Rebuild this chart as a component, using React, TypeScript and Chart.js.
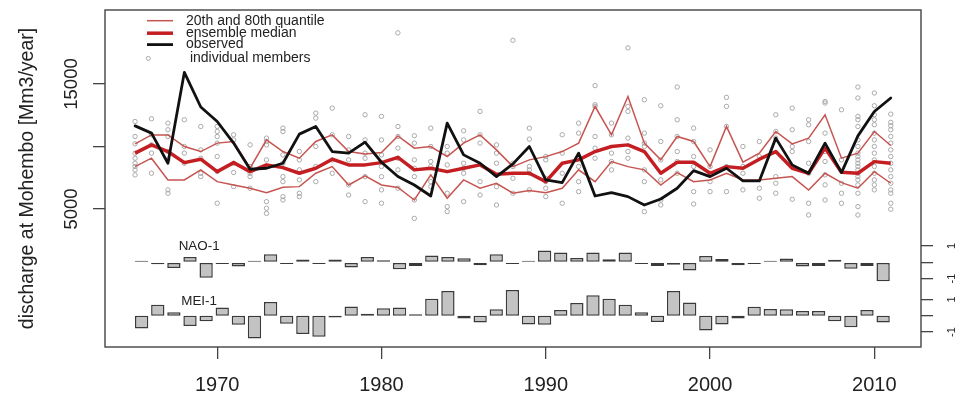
import React, { useEffect, useRef } from 'react';
import { Chart, registerables } from 'chart.js';

Chart.register(...registerables);

// ---------------- data ----------------
const YEARS = [
  1965, 1966, 1967, 1968, 1969, 1970, 1971, 1972, 1973, 1974,
  1975, 1976, 1977, 1978, 1979, 1980, 1981, 1982, 1983, 1984,
  1985, 1986, 1987, 1988, 1989, 1990, 1991, 1992, 1993, 1994,
  1995, 1996, 1997, 1998, 1999, 2000, 2001, 2002, 2003, 2004,
  2005, 2006, 2007, 2008, 2009, 2010, 2011,
];

const OBSERVED = [
  11650, 11070, 8660, 15930, 13160, 12000, 10270, 8180, 8260, 8660,
  10990, 11600, 9595, 9470, 10350, 8740, 7600, 6920, 6040, 11870,
  9330, 8660, 7590, 8610, 10000, 7325, 7110, 9470, 6040, 6310,
  5990, 5320, 5800, 6660, 8070, 7590, 8260, 7245, 7245, 10670,
  8530, 7860, 10270, 7910, 10850, 12800, 13880,
];

const MEDIAN = [
  9470, 10130, 9595, 8710, 8985, 7990, 8710, 7990, 8530, 8310,
  7860, 8260, 8985, 8530, 8530, 8710, 9130, 8130, 8260, 7990,
  8260, 8530, 7780, 7860, 7860, 7190, 8660, 8930, 9595, 10000,
  10130, 9595, 7860, 8745, 8745, 7860, 8390, 8260, 8985, 9595,
  8260, 7860, 9870, 7940, 7860, 8790, 8660,
];

const Q80 = [
  10210, 10930, 10930, 10000, 9595, 10270, 10400, 8260, 10530, 9595,
  9065, 10400, 10930, 9595, 9410, 9515, 10850, 9870, 10000, 9190,
  10270, 10930, 9730, 8390, 8930, 9190, 9595, 10270, 13200, 10930,
  14000, 10270, 8930, 10800, 10400, 8390, 11600, 8745, 9470, 11200,
  10210, 10670, 12540, 9065, 9470, 11200, 10080,
];

const Q20 = [
  8390, 9065, 7325, 7325, 8130, 7190, 6920, 6660, 6310, 6740,
  6790, 7860, 8390, 6920, 7650, 6920, 6720, 5720, 7730, 5860,
  7325, 6660, 7060, 6260, 6470, 6310, 6660, 8130, 7190, 8790,
  8390, 8130, 6920, 7910, 7190, 7325, 7860, 7325, 7325, 7460,
  7590, 6520, 7860, 7110, 6660, 7990, 7060,
];

const MEMBERS: number[][] = [
  [12000, 10800, 10210, 9470, 9060, 8660, 8400, 8130, 7730],
  [12220, 10940, 10130, 9470, 7860],
  [11870, 11340, 10800, 9600, 8930, 6530, 6260],
  [12140, 10000, 9470, 8660],
  [11600, 9730, 9060, 7860, 7590],
  [11600, 11200, 10800, 10270, 9200, 8000, 5460],
  [10940, 10530, 8660, 7920, 6790],
  [10130, 8400, 7860, 7590, 6660],
  [10670, 10400, 10130, 8930, 8400, 5590, 5060, 4650],
  [11470, 11200, 9330, 8660, 7590, 7190, 5990, 5720],
  [9600, 8930, 8130, 7330, 6260, 5990],
  [12670, 12270, 10000, 8400, 7190],
  [13070, 10940, 8930, 7860],
  [10800, 9730, 8930, 6930, 6120],
  [12540, 10530, 9470, 9060, 7590, 5590],
  [12410, 10530, 9330, 8400, 7590, 6530, 5460],
  [19090, 11600, 10800, 9870, 9060, 8130, 6660],
  [10860, 10270, 8930, 8260, 7590, 5720, 4250],
  [11470, 10000, 8800, 8400, 7190, 6790],
  [10000, 9470, 8530, 6260, 5190, 4790],
  [11260, 10530, 8660, 8260, 7860, 5590],
  [12810, 10940, 10270, 7190, 6120],
  [10130, 9470, 8660, 6790, 5320],
  [18500, 8660, 8400, 7460, 6260],
  [11470, 10590, 8400, 8130, 7860, 6530],
  [9200, 8930, 7460, 7190, 6660, 5990],
  [10940, 9470, 7860, 5460],
  [11870, 11070, 9060, 8400, 7190, 6390],
  [14870, 13340, 13210, 10800, 9870, 9060],
  [11870, 10940, 9470, 8800, 8130],
  [17890, 13210, 12810, 10670, 9600, 9060],
  [13740, 11070, 10270, 10000, 8130, 7190, 4790],
  [13260, 10400, 8930, 7330, 5720, 5320],
  [14760, 12140, 10800, 9600, 8800, 7860],
  [11470, 10400, 9200, 8400, 6390, 5400],
  [9730, 8400, 7860, 7190, 6390],
  [13930, 13210, 11600, 8400, 6390],
  [10000, 8400, 7860, 6530],
  [10400, 9200, 6660, 5860],
  [12540, 11200, 10670, 7590, 7060, 6260],
  [13070, 11340, 10000, 9600, 5780],
  [12140, 11740, 10400, 8660, 7860, 5460, 4520],
  [13610, 13480, 11070, 9600, 8800, 7730, 6930, 5720],
  [12940, 8930, 7060, 6260, 5460],
  [14760, 13880, 12410, 12140, 11600, 10530, 10000, 9470, 9200, 8930, 8660, 8400, 8130, 7860, 7590, 7330, 6930, 6260, 5190, 4520],
  [14280, 13260, 12540, 12140, 11740, 11070, 10530, 10000, 9470, 8930, 8400, 7860, 7330, 6930, 6530],
  [12590, 11930, 11660, 11340, 10800, 10270, 9730, 9200, 8660, 8130, 7590, 7060, 6530, 6260, 5460, 4980],
];

const NAO_LAG = [
  0.1, -0.12, -0.35, 0.33, -0.95, -0.1, -0.25, 0.1, 0.5, -0.1,
  0.18, -0.1, 0.18, -0.32, 0.33, 0.13, -0.42, -0.22, 0.42, 0.33,
  0.25, -0.18, 0.5, -0.1, 0.1, 0.72, 0.6, 0.26, 0.6, 0.19,
  0.6, -0.1, -0.22, -0.15, -0.5, 0.38, 0.2, -0.18, -0.1, 0.1,
  0.24, -0.26, -0.22, 0.16, -0.4, -0.22, -1.16,
];

const MEI_LAG = [
  -0.78, 0.68, 0.22, -0.62, -0.33, 0.5, -0.55, -1.4, 0.85, -0.49,
  -1.12, -1.29, -0.1, 0.57, 0.12, 0.46, 0.5, 0.1, 1.05, 1.52,
  -0.17, -0.42, 0.4, 1.58, -0.53, -0.55, 0.35, 0.78, 1.26, 1.05,
  0.68, 0.21, -0.38, 1.52, 0.82, -0.91, -0.53, -0.17, 0.55, 0.42,
  0.4, 0.3, 0.3, -0.34, -0.7, 0.36, -0.42,
];

const X_TICKS = [1970, 1980, 1990, 2000, 2010];
const Y_TICKS = [5000, 10000, 15000];
const Y_TICK_LABELS = ['5000', '', '15000'];
const INDEX_TICKS = [1, 0, -1];
const INDEX_TICK_LABELS = ['1', '', '-1'];
const LEGEND_LABELS = ['20th and 80th quantile', 'ensemble median', 'observed', ' individual members'];
const Y_TITLE = 'discharge at Mohembo [Mm3/year]';
const INDEX_NAMES = ['NAO-1', 'MEI-1'];

// ---------------- layout / style ----------------
const NAO_BASE = 0;
const MEI_BASE = -3.28;
const FONT = "'Liberation Sans', Arial, Helvetica, sans-serif";
const C_OBS = '#111111';
const C_MED = '#c41e22';
const C_Q = '#c65450';
const C_MEM = '#a9a9a9';
const C_AXIS = '#444444';
const C_TEXT = '#222222';

const framePlugin = {
  id: 'frame',
  afterDraw(chart: any) {
    const { ctx, chartArea: a } = chart;
    ctx.save();
    ctx.strokeStyle = C_AXIS;
    ctx.lineWidth = 1.4;
    ctx.strokeRect(a.left, a.top, a.right - a.left, a.bottom - a.top);
    ctx.restore();
  },
};

const legendPlugin = {
  id: 'rlegend',
  afterDraw(chart: any) {
    const { ctx, chartArea: a } = chart;
    const ds = chart.data.datasets;
    const x0 = a.left + 42;
    const x1 = a.left + 68;
    const tx = a.left + 81;
    const rows = [a.top + 10.7, a.top + 23.2, a.top + 34.6, a.top + 48.4];
    ctx.save();
    ctx.font = `14px ${FONT}`;
    ctx.textBaseline = 'middle';
    ctx.textAlign = 'left';
    const lineDs = [ds[2], ds[1], ds[0]];
    lineDs.forEach((d: any, i: number) => {
      ctx.strokeStyle = d.borderColor;
      ctx.lineWidth = d.borderWidth;
      ctx.beginPath();
      ctx.moveTo(x0, rows[i]);
      ctx.lineTo(x1, rows[i]);
      ctx.stroke();
    });
    ctx.strokeStyle = C_MEM;
    ctx.lineWidth = 1;
    ctx.beginPath();
    ctx.arc(x0 + 1.3, rows[3], 2, 0, Math.PI * 2);
    ctx.stroke();
    ctx.fillStyle = C_TEXT;
    LEGEND_LABELS.forEach((t, i) => ctx.fillText(t, tx, rows[i]));
    ctx.restore();
  },
};

const indexLabelPlugin = {
  id: 'indexLabels',
  afterDraw(chart: any) {
    const { ctx, scales } = chart;
    const xs = scales.x;
    const yi = scales.yi;
    ctx.save();
    ctx.font = `13.4px ${FONT}`;
    ctx.fillStyle = C_TEXT;
    ctx.textAlign = 'center';
    ctx.textBaseline = 'middle';
    ctx.fillText(INDEX_NAMES[0], xs.getPixelForValue(1968.9), yi.getPixelForValue(NAO_BASE + 0.97));
    ctx.fillText(INDEX_NAMES[1], xs.getPixelForValue(1968.9), yi.getPixelForValue(MEI_BASE + 0.86));
    ctx.restore();
  },
};

export default function App() {
  const ref = useRef<HTMLCanvasElement | null>(null);

  useEffect(() => {
    document.body.style.margin = '0';
    const canvas = ref.current;
    if (!canvas) return;

    const pts = (vals: number[]) => YEARS.map((x, i) => ({ x, y: vals[i] }));
    const memberPts: { x: number; y: number }[] = [];
    MEMBERS.forEach((arr, i) => arr.forEach((v) => memberPts.push({ x: YEARS[i], y: v })));

    const barCommon = {
      type: 'bar' as const,
      xAxisID: 'x2',
      yAxisID: 'yi',
      backgroundColor: '#c3c3c3',
      borderColor: '#3a3a3a',
      borderWidth: 1.5,
      borderSkipped: false,
      grouped: false,
      barPercentage: 0.825,
      categoryPercentage: 1,
    };

    const gridCommon = {
      drawOnChartArea: false,
      drawTicks: true,
      tickLength: 12,
      color: C_AXIS,
      lineWidth: 1.3,
    };

    const chart = new Chart(canvas, {
      type: 'line',
      data: {
        datasets: [
          {
            label: 'observed',
            data: pts(OBSERVED),
            borderColor: C_OBS,
            borderWidth: 2.8,
            pointRadius: 0,
            tension: 0,
            borderJoinStyle: 'round',
            borderCapStyle: 'round',
            order: 0,
          },
          {
            label: 'ensemble median',
            data: pts(MEDIAN),
            borderColor: C_MED,
            borderWidth: 3.5,
            pointRadius: 0,
            tension: 0,
            borderJoinStyle: 'round',
            order: 1,
          },
          {
            label: '80th quantile',
            data: pts(Q80),
            borderColor: C_Q,
            borderWidth: 1.5,
            pointRadius: 0,
            tension: 0,
            order: 2,
          },
          {
            label: '20th quantile',
            data: pts(Q20),
            borderColor: C_Q,
            borderWidth: 1.5,
            pointRadius: 0,
            tension: 0,
            order: 2,
          },
          {
            label: 'individual members',
            data: memberPts,
            showLine: false,
            pointRadius: 2.2,
            pointBorderWidth: 1,
            pointBorderColor: C_MEM,
            pointBackgroundColor: 'rgba(0,0,0,0)',
            borderColor: C_MEM,
            order: 3,
          },
          {
            ...barCommon,
            label: 'NAO-1',
            data: YEARS.map((x, i) => ({ x, y: [NAO_BASE, NAO_BASE + NAO_LAG[i]] })),
            order: 4,
          },
          {
            ...barCommon,
            label: 'MEI-1',
            data: YEARS.map((x, i) => ({ x, y: [MEI_BASE, MEI_BASE + MEI_LAG[i]] })),
            order: 4,
          },
        ] as any,
      },
      options: {
        animation: false,
        responsive: false,
        events: [],
        layout: { padding: { top: 10, left: 0, right: 0, bottom: 0 } },
        plugins: { legend: { display: false }, tooltip: { enabled: false } },
        scales: {
          x: {
            type: 'linear',
            position: 'bottom',
            offset: false,
            min: 1963.17,
            max: 2012.84,
            afterBuildTicks: (s: any) => { s.ticks = X_TICKS.map((v) => ({ value: v })); },
            afterFit: (s: any) => { s.height = 47; s.paddingLeft = 0; s.paddingRight = 0; },
            ticks: {
              autoSkip: false,
              maxRotation: 0,
              padding: 14,
              color: C_TEXT,
              font: { size: 20, family: FONT },
              callback: (v: any) => String(v),
            },
            grid: gridCommon,
            border: { display: false },
          },
          x2: {
            type: 'linear',
            display: false,
            offset: false,
            min: 1962.726,
            max: 2013.35,
          },
          y: {
            type: 'linear',
            position: 'left',
            min: -6040,
            max: 20920,
            afterBuildTicks: (s: any) => { s.ticks = Y_TICKS.map((v) => ({ value: v })); },
            afterFit: (s: any) => { s.width = 105; s.paddingTop = 0; s.paddingBottom = 0; },
            ticks: {
              autoSkip: false,
              minRotation: 90,
              maxRotation: 90,
              crossAlign: 'center',
              padding: -5,
              color: C_TEXT,
              font: { size: 18.5, family: FONT },
              callback: (_v: any, i: number) => Y_TICK_LABELS[i],
            },
            title: {
              display: true,
              text: Y_TITLE,
              color: C_TEXT,
              font: { size: 19.5, family: FONT },
              padding: { top: 16.3, bottom: 0 },
            },
            grid: gridCommon,
            border: { display: false },
          },
          yi: {
            type: 'linear',
            position: 'right',
            min: -5.196,
            max: 15.48,
            afterBuildTicks: (s: any) => {
              s.ticks = [
                ...INDEX_TICKS.map((v) => ({ value: NAO_BASE + v })),
                ...INDEX_TICKS.map((v) => ({ value: MEI_BASE + v })),
              ];
            },
            afterFit: (s: any) => { s.width = 39; s.paddingTop = 0; s.paddingBottom = 0; },
            ticks: {
              autoSkip: false,
              minRotation: 90,
              maxRotation: 90,
              crossAlign: 'center',
              padding: 13.6,
              color: C_TEXT,
              font: { size: 11, family: FONT },
              callback: (_v: any, i: number) => INDEX_TICK_LABELS[i % INDEX_TICKS.length],
            },
            grid: gridCommon,
            border: { display: false },
          },
        },
      } as any,
      plugins: [framePlugin, legendPlugin, indexLabelPlugin],
    });

    return () => chart.destroy();
  }, []);

  return (
    <div style={{ width: 960, height: 394, position: 'relative' }}>
      <canvas ref={ref} width={960} height={394} style={{ display: 'block' }} />
    </div>
  );
}
